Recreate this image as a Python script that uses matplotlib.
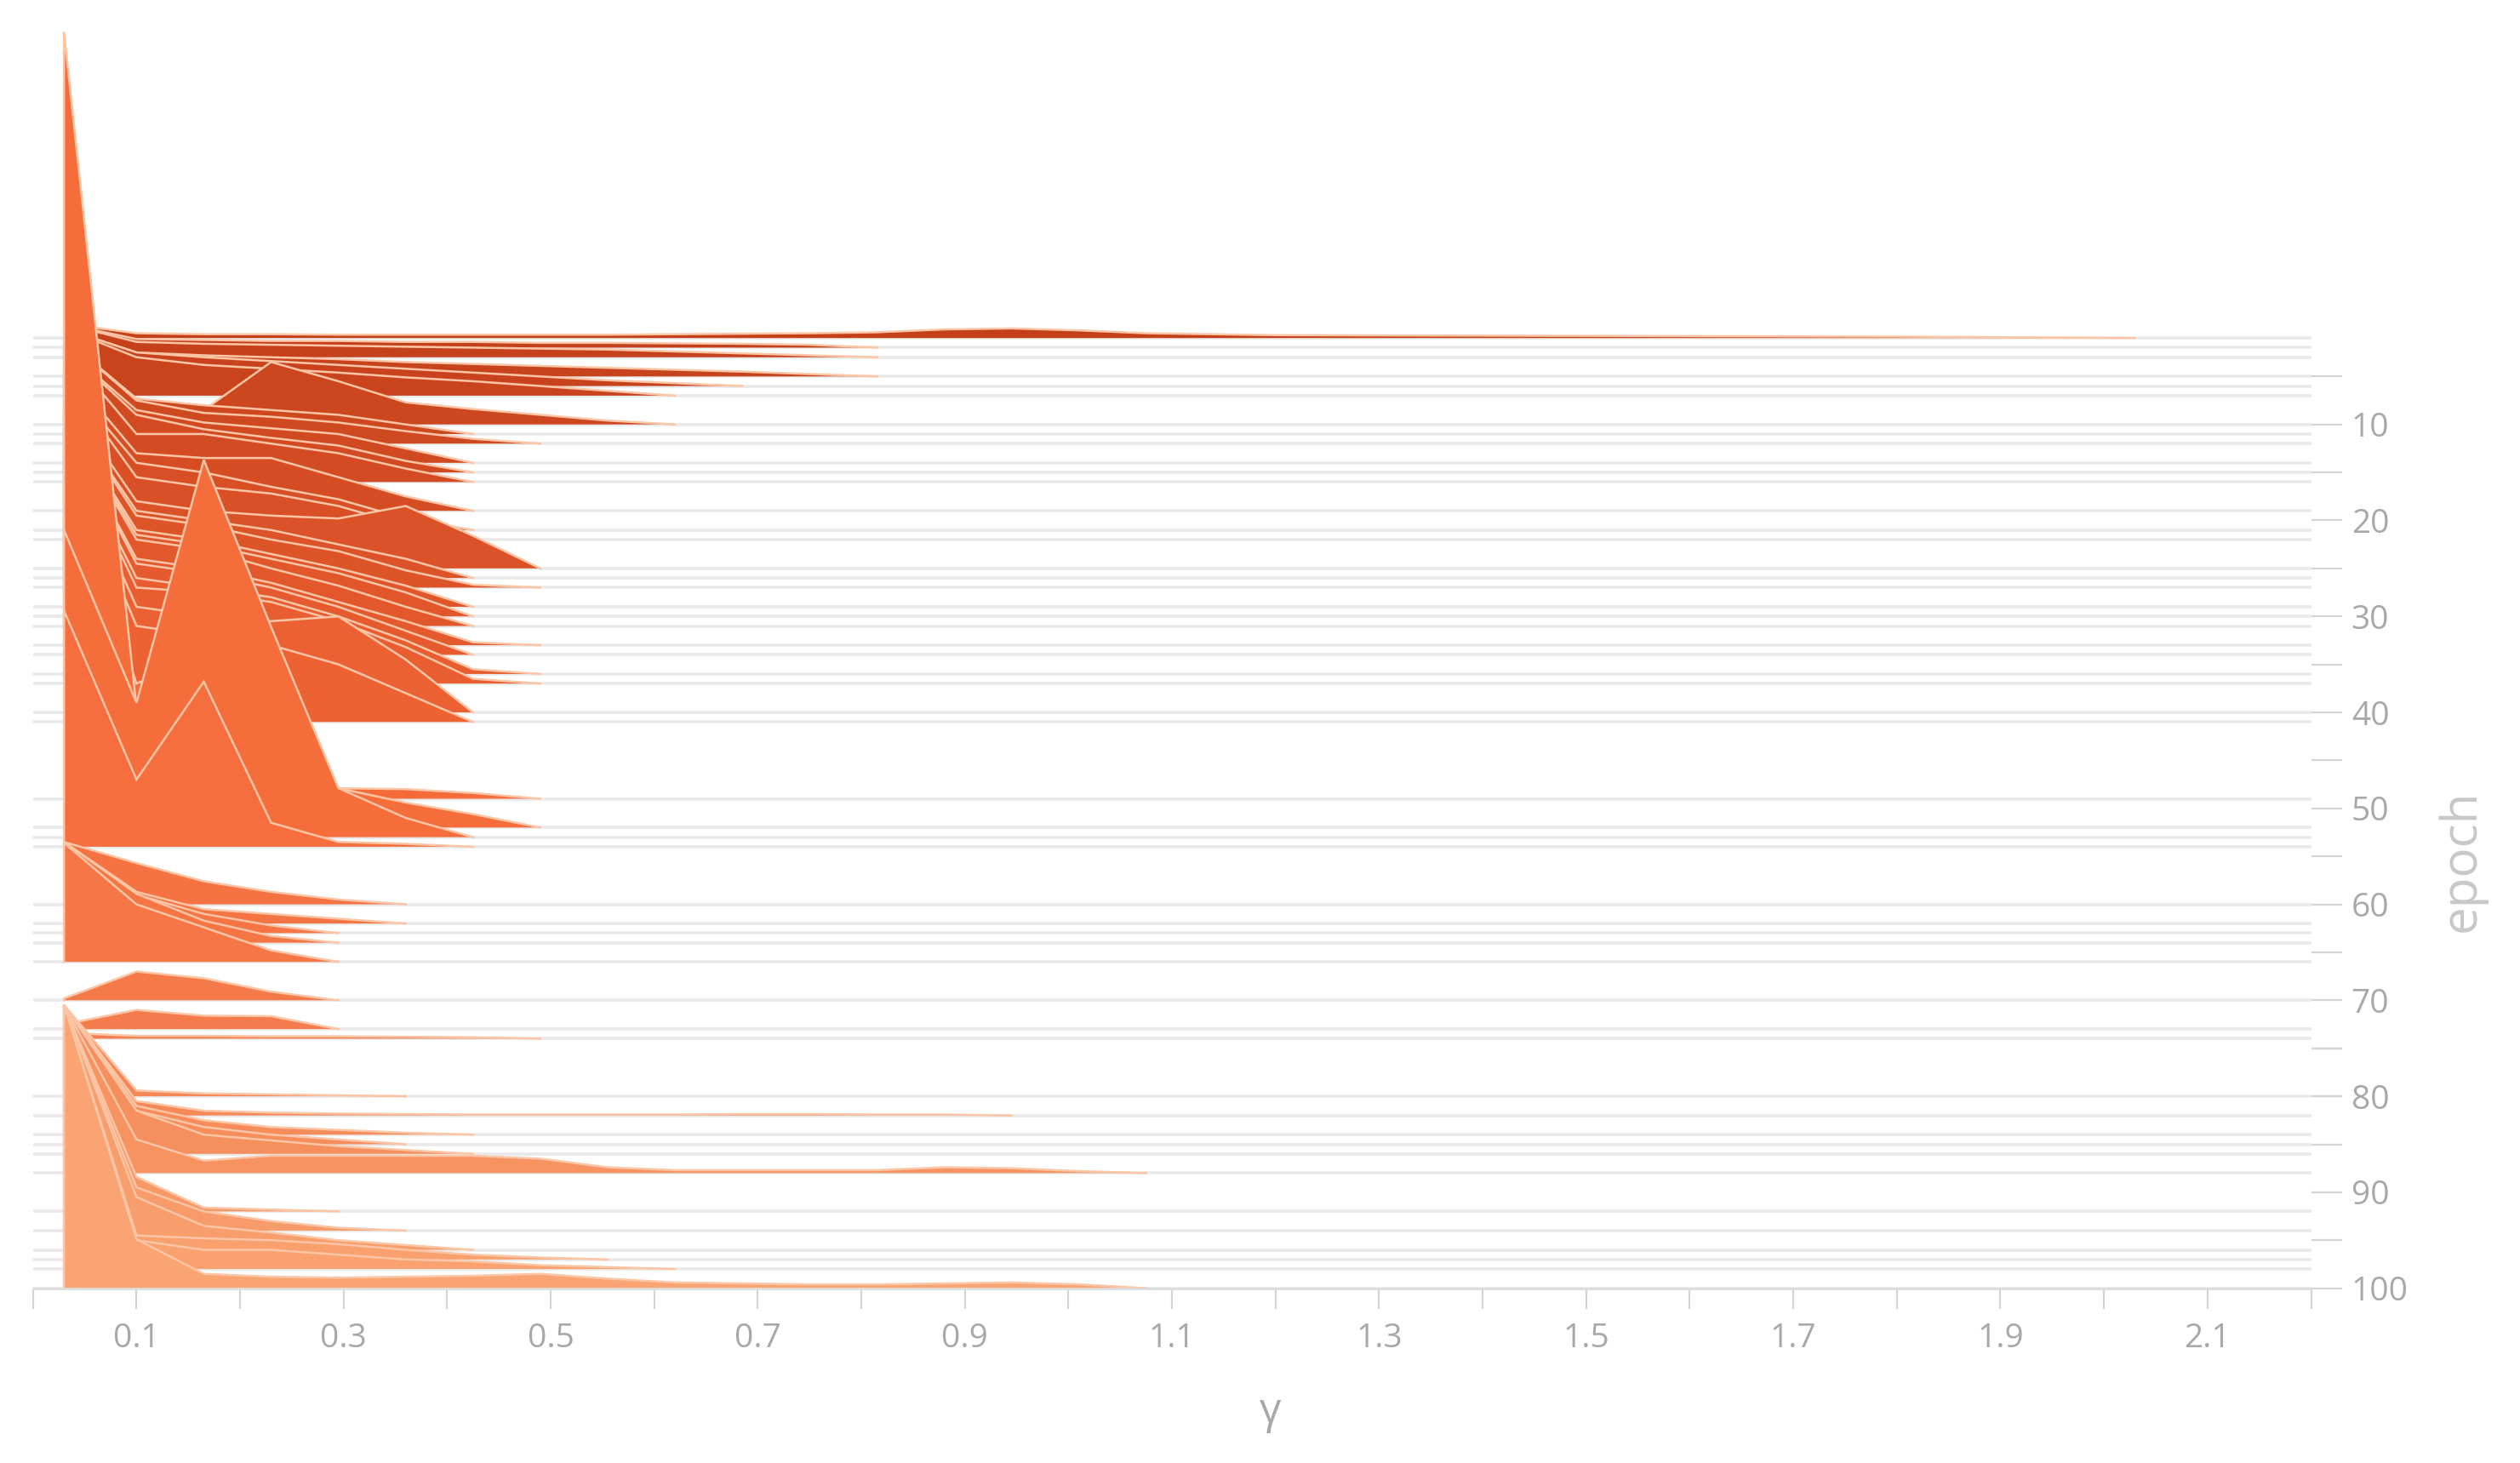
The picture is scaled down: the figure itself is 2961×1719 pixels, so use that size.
import numpy as np
import matplotlib.pyplot as plt
from matplotlib.colors import LinearSegmentedColormap

# Bin centres of the gamma histograms
gamma_bins = [0.03, 0.10, 0.165, 0.23, 0.295, 0.36, 0.425, 0.49, 0.555, 0.62,
              0.685, 0.75, 0.815, 0.88, 0.945, 1.01, 1.075, 1.2, 1.4, 1.6, 1.8, 2.03]

# Recorded epochs (one ridge each)
epochs = [1, 2, 3, 5, 6, 7, 10, 11, 12, 14, 15, 16, 19, 21, 22, 25, 26, 27, 29, 30,
          31, 33, 34, 36, 37, 40, 41, 49, 52, 53, 54, 60, 62, 63, 64, 66, 70, 73, 74,
          80, 82, 84, 85, 86, 88, 92, 94, 96, 97, 98, 100]

# Histogram heights (in epoch-row units) on gamma_bins, one list per epoch
heights = [
    [1.5, 0.5, 0.4, 0.4, 0.35, 0.35, 0.35, 0.35, 0.35, 0.4, 0.45, 0.5, 0.6, 0.9, 1.0, 0.8, 0.5, 0.3, 0.25, 0.2, 0.15],
    [2.5, 0.9, 0.8, 0.7, 0.7, 0.6, 0.6, 0.5, 0.5, 0.45, 0.4, 0.3],
    [3.5, 1.6, 1.4, 1.3, 1.2, 1.1, 1.0, 0.9, 0.8, 0.6, 0.4, 0.2],
    [5.0, 2.5, 2.2, 2.0, 1.8, 1.5, 1.3, 1.1, 0.9, 0.7, 0.5, 0.25],
    [6.0, 3.5, 3.0, 2.6, 2.2, 1.8, 1.4, 1.0, 0.6, 0.3],
    [7.0, 4.0, 3.2, 2.8, 2.4, 1.9, 1.5, 1.0, 0.5],
    [9.0, 2.5, 1.5, 6.5, 4.5, 2.3, 1.6, 1.0, 0.4],
    [10.0, 3.7, 3.0, 2.5, 2.0, 1.0],
    [11.0, 4.5, 3.2, 2.8, 2.2, 1.3, 0.5],
    [12.0, 5.5, 4.2, 3.6, 3.0, 1.5],
    [13.0, 6.0, 4.5, 3.6, 2.8, 1.2],
    [14.0, 5.0, 5.0, 4.0, 3.0, 1.4],
    [15.0, 6.0, 5.5, 5.5, 3.5, 1.5],
    [16.0, 7.0, 6.0, 4.5, 3.2, 1.2],
    [17.0, 6.5, 5.5, 4.8, 3.5, 1.5],
    [18.0, 7.0, 6.0, 5.5, 5.2, 6.5, 3.4],
    [18.0, 7.0, 6.0, 5.0, 3.5, 2.0],
    [19.0, 7.5, 6.5, 5.0, 3.8, 1.8, 0.3],
    [20.0, 8.0, 7.0, 5.5, 4.0, 2.2],
    [21.0, 8.5, 7.5, 6.0, 4.5, 2.5],
    [22.0, 9.0, 8.0, 6.0, 4.2, 2.0],
    [23.0, 9.0, 8.0, 6.5, 4.5, 2.5, 0.3],
    [24.0, 9.5, 8.5, 7.0, 5.0, 2.5],
    [25.0, 10.0, 9.0, 8.0, 6.0, 3.5, 0.5],
    [26.0, 10.0, 9.5, 8.5, 6.5, 3.8, 0.5],
    [28.0, 11.0, 10.0, 9.5, 10.0, 5.5],
    [28.0, 10.0, 9.0, 8.0, 6.0, 3.0],
    [35.0, 12.0, 15.0, 10.0, 1.1, 1.0, 0.6],
    [82.9, 12.5, 25.0, 15.0, 4.1, 2.6, 1.4],
    [32.0, 14.0, 39.3, 21.9, 5.1, 2.0],
    [24.6, 7.0, 17.2, 2.5, 0.5, 0.3],
    [6.5, 4.3, 2.4, 1.3, 0.5],
    [8.5, 3.3, 1.5, 1.0, 0.5],
    [9.5, 4.0, 2.0, 0.8],
    [10.5, 5.1, 2.3, 0.7],
    [12.4, 6.0, 3.6, 1.2],
    [0.2, 3.0, 2.3, 0.9],
    [0.5, 2.0, 1.4, 1.35],
    [0.6, 0.3, 0.3, 0.25, 0.25, 0.2, 0.15],
    [9.5, 0.6, 0.3, 0.2, 0.1],
    [11.5, 1.5, 0.5, 0.3, 0.2, 0.15, 0.1, 0.1, 0.1, 0.1, 0.15, 0.15, 0.1, 0.1],
    [13.5, 3.0, 1.5, 0.8, 0.5, 0.2],
    [14.5, 3.5, 1.8, 1.0, 0.5],
    [15.5, 4.5, 2.0, 1.4, 0.8, 0.4],
    [17.5, 3.5, 1.3, 1.8, 1.8, 1.8, 1.8, 1.5, 0.6, 0.3, 0.3, 0.3, 0.3, 0.6, 0.5, 0.2],
    [21.5, 3.6, 0.4, 0.2],
    [23.5, 4.5, 2.0, 1.0, 0.3],
    [25.5, 5.5, 2.5, 1.8, 1.0, 0.5],
    [26.5, 2.5, 2.2, 2.0, 1.6, 1.0, 0.5, 0.2],
    [27.5, 3.0, 2.0, 2.0, 1.5, 1.0, 0.8, 0.4, 0.2],
    [29.5, 5.1, 1.5, 1.2, 1.1, 1.2, 1.3, 1.5, 1.0, 0.6, 0.5, 0.4, 0.4, 0.5, 0.6, 0.4],
]

x_ticks = [round(0.1 * i, 1) for i in range(23)]
x_labels = ['0.1', '0.3', '0.5', '0.7', '0.9', '1.1', '1.3', '1.5', '1.7', '1.9', '2.1']
y_labels = ['10', '20', '30', '40', '50', '60', '70', '80', '90', '100']

plt.rcParams['font.family'] = ['Open Sans', 'DejaVu Sans']

ridge_cmap = LinearSegmentedColormap.from_list(
    'ridge', ['#c23f19', '#dc5228', '#f66b3a', '#f47e4e', '#f9a472'])
edge_col = '#fcc5a5'
grid_col = '#e9e9e9'
text_col = '#a8a8a8'

W, H = 2961, 1719
fig = plt.figure(figsize=(W / 100, H / 100), dpi=100)
left, right_edge = 20.5 / 1568, 1438 / 1568
bottom = 1 - 801.3 / 910
ax = fig.add_axes([left, bottom, right_edge - left, 1 - bottom])

# baselines
for e in epochs:
    ax.plot([0, 2.2], [e, e], color=grid_col, lw=2.6, zorder=1, solid_capstyle='butt')

# ridges, earliest first so later epochs sit in front
for e, h in zip(epochs, heights):
    n = len(h)
    xs = [gamma_bins[0]] + gamma_bins[:n] + [gamma_bins[n]]
    ys = [e] + [e - v for v in h] + [e]
    col = ridge_cmap(e / 100)
    ax.fill(xs, ys, facecolor=col, edgecolor='none', zorder=2)
    ax.plot(xs, ys, color=edge_col, lw=1.8, zorder=2, solid_joinstyle='miter')

ax.set_xlim(0, 2.2)
ax.set_ylim(100, -34.22)

for s in ['left', 'top', 'right']:
    ax.spines[s].set_visible(False)
ax.spines['bottom'].set_color('#dcdcdc')
ax.spines['bottom'].set_linewidth(2)

ax.set_xticks(x_ticks)
ax.set_xticklabels(['' if i % 2 == 0 else x_labels[i // 2] for i in range(len(x_ticks))])
ax.tick_params(axis='x', length=17, width=1.6, color='#d4d4d4', labelsize=28,
               labelcolor=text_col, pad=12)

ax.yaxis.tick_right()
ax.set_yticks(list(range(5, 101, 5)))
ax.set_yticklabels(['' if k % 2 == 0 else y_labels[k // 2] for k in range(20)])
ax.tick_params(axis='y', length=26, width=1.6, color='#d4d4d4', labelsize=28,
               labelcolor=text_col, pad=8)

# axis titles
ax.text(0.543, -0.096, 'γ', transform=ax.transAxes, fontsize=36,
        color=text_col, ha='center', va='center')
ax.text(1.066, 0.332, 'epoch', transform=ax.transAxes, rotation=90,
        fontsize=42, color='#c8c8c8', ha='center', va='center')

fig.savefig('out.png', dpi=100, facecolor='white')
